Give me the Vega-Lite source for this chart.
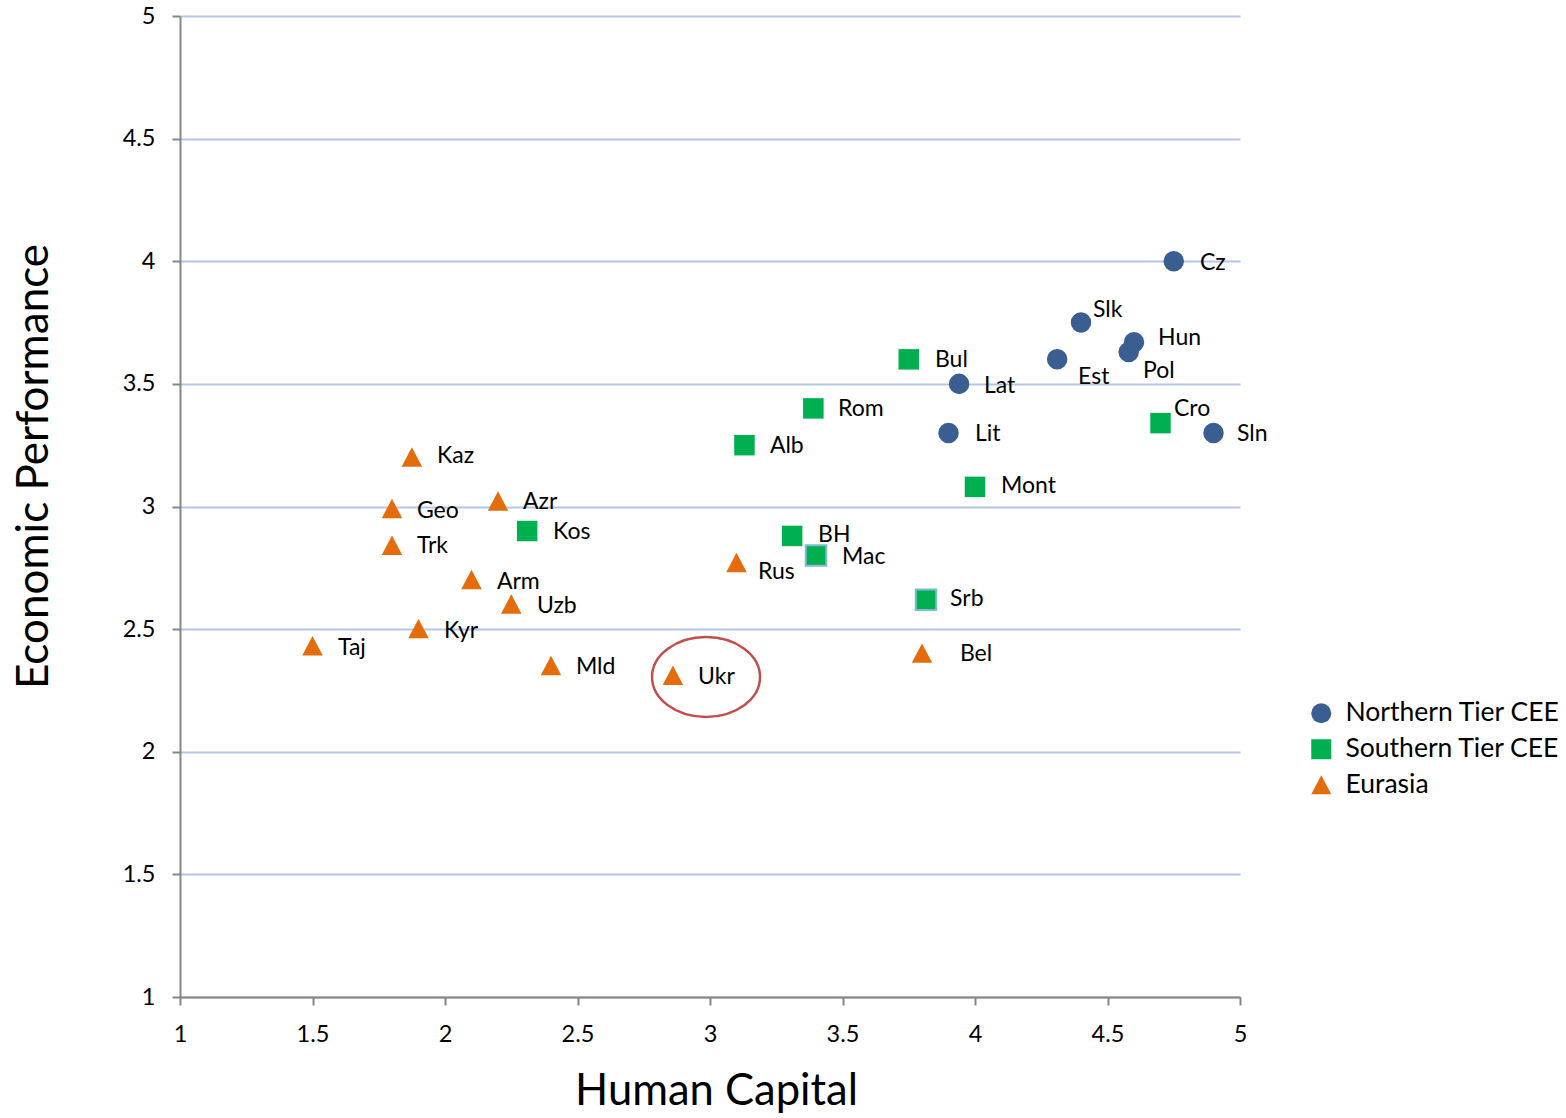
{
  "$schema": "https://vega.github.io/schema/vega-lite/v6.json",
  "width": 1060,
  "height": 981,
  "autosize": {"type": "none"},
  "padding": {"left": 180, "top": 16, "right": 326, "bottom": 121},
  "background": "white",
  "config": {
    "font": "Lato",
    "view": {"stroke": null},
    "axis": {
      "domainColor": "#868686",
      "domainWidth": 2,
      "tickColor": "#868686",
      "tickWidth": 2,
      "tickSize": 8,
      "labelFontSize": 23.5,
      "labelColor": "#000000",
      "labelFont": "Lato",
      "titleFont": "Lato",
      "titleFontWeight": "normal",
      "titleColor": "#000000"
    },
    "legend": {
      "labelFont": "Lato",
      "labelFontSize": 26.5,
      "labelColor": "#000000",
      "labelLimit": 0
    }
  },
  "datasets": {
    "points": [
      {"country": "Cz", "group": "Northern Tier CEE", "hc": 4.75, "ep": 4.0, "lx": 4.849, "ly": 3.993},
      {"country": "Slk", "group": "Northern Tier CEE", "hc": 4.4, "ep": 3.75, "lx": 4.445, "ly": 3.801},
      {"country": "Hun", "group": "Northern Tier CEE", "hc": 4.6, "ep": 3.67, "lx": 4.691, "ly": 3.687},
      {"country": "Pol", "group": "Northern Tier CEE", "hc": 4.58, "ep": 3.63, "lx": 4.634, "ly": 3.553},
      {"country": "Est", "group": "Northern Tier CEE", "hc": 4.31, "ep": 3.6, "lx": 4.389, "ly": 3.528},
      {"country": "Lat", "group": "Northern Tier CEE", "hc": 3.94, "ep": 3.5, "lx": 4.034, "ly": 3.491},
      {"country": "Lit", "group": "Northern Tier CEE", "hc": 3.9, "ep": 3.3, "lx": 4.0, "ly": 3.296},
      {"country": "Sln", "group": "Northern Tier CEE", "hc": 4.9, "ep": 3.3, "lx": 4.989, "ly": 3.296},
      {"country": "Bul", "group": "Southern Tier CEE", "hc": 3.75, "ep": 3.6, "lx": 3.849, "ly": 3.597},
      {"country": "Rom", "group": "Southern Tier CEE", "hc": 3.39, "ep": 3.4, "lx": 3.483, "ly": 3.398},
      {"country": "Alb", "group": "Southern Tier CEE", "hc": 3.13, "ep": 3.25, "lx": 3.226, "ly": 3.247},
      {"country": "Cro", "group": "Southern Tier CEE", "hc": 4.7, "ep": 3.34, "lx": 4.751, "ly": 3.398},
      {"country": "Mont", "group": "Southern Tier CEE", "hc": 4.0, "ep": 3.08, "lx": 4.098, "ly": 3.084},
      {"country": "Kos", "group": "Southern Tier CEE", "hc": 2.31, "ep": 2.9, "lx": 2.408, "ly": 2.896},
      {"country": "BH", "group": "Southern Tier CEE", "hc": 3.31, "ep": 2.88, "lx": 3.408, "ly": 2.884},
      {"country": "Mac", "group": "Southern Tier CEE", "hc": 3.4, "ep": 2.8, "lx": 3.498, "ly": 2.794},
      {"country": "Srb", "group": "Southern Tier CEE", "hc": 3.815, "ep": 2.62, "lx": 3.906, "ly": 2.623},
      {"country": "Kaz", "group": "Eurasia", "hc": 1.875, "ep": 3.2, "lx": 1.97, "ly": 3.206},
      {"country": "Azr", "group": "Eurasia", "hc": 2.2, "ep": 3.02, "lx": 2.294, "ly": 3.018},
      {"country": "Geo", "group": "Eurasia", "hc": 1.8, "ep": 2.99, "lx": 1.894, "ly": 2.982},
      {"country": "Trk", "group": "Eurasia", "hc": 1.8, "ep": 2.84, "lx": 1.894, "ly": 2.839},
      {"country": "Arm", "group": "Eurasia", "hc": 2.1, "ep": 2.7, "lx": 2.196, "ly": 2.692},
      {"country": "Uzb", "group": "Eurasia", "hc": 2.25, "ep": 2.6, "lx": 2.347, "ly": 2.594},
      {"country": "Kyr", "group": "Eurasia", "hc": 1.9, "ep": 2.5, "lx": 1.996, "ly": 2.492},
      {"country": "Taj", "group": "Eurasia", "hc": 1.5, "ep": 2.43, "lx": 1.596, "ly": 2.423},
      {"country": "Mld", "group": "Eurasia", "hc": 2.4, "ep": 2.35, "lx": 2.494, "ly": 2.346},
      {"country": "Ukr", "group": "Eurasia", "hc": 2.86, "ep": 2.31, "lx": 2.955, "ly": 2.305},
      {"country": "Rus", "group": "Eurasia", "hc": 3.1, "ep": 2.77, "lx": 3.181, "ly": 2.733},
      {"country": "Bel", "group": "Eurasia", "hc": 3.8, "ep": 2.4, "lx": 3.943, "ly": 2.399}
    ],
    "highlight": [
      {"hc": 2.985, "ep": 2.305}
    ]
  },
  "layer": [
    {
      "data": {"name": "points"},
      "mark": {"type": "point", "filled": true, "opacity": 1, "size": 420},
      "encoding": {
        "x": {
          "field": "hc", "type": "quantitative",
          "scale": {"domain": [1, 5], "nice": false, "zero": false},
          "axis": {
            "values": [1, 1.5, 2, 2.5, 3, 3.5, 4, 4.5, 5],
            "format": "~g",
            "grid": false,
            "labelFlush": false,
            "labelPadding": 17,
            "title": "Human Capital",
            "titleFontSize": 43.5,
            "titleX": 536,
            "titleY": 107,
            "titleAlign": "center",
            "titleBaseline": "alphabetic"
          }
        },
        "y": {
          "field": "ep", "type": "quantitative",
          "scale": {"domain": [1, 5], "nice": false, "zero": false},
          "axis": {
            "values": [1, 1.5, 2, 2.5, 3, 3.5, 4, 4.5, 5],
            "format": "~g",
            "grid": true,
            "gridColor": "#B4C6E7",
            "gridWidth": 2,
            "labelFlush": false,
            "labelPadding": 17,
            "title": "Economic Performance",
            "titleFontSize": 44,
            "titleX": -133,
            "titleY": 450,
            "titleAngle": -90,
            "titleAlign": "center",
            "titleBaseline": "alphabetic"
          }
        },
        "color": {
          "field": "group", "type": "nominal",
          "scale": {"domain": ["Northern Tier CEE", "Southern Tier CEE", "Eurasia"], "range": ["#3A5E91", "#00B050", "#E46C0A"]},
          "legend": {
            "title": null,
            "orient": "none",
            "legendX": 1128,
            "legendY": 684,
            "symbolSize": 400,
            "labelOffset": 11,
            "rowPadding": 9,
            "symbolStrokeWidth": 0
          }
        },
        "shape": {
          "field": "group", "type": "nominal",
          "scale": {"domain": ["Northern Tier CEE", "Southern Tier CEE", "Eurasia"], "range": ["circle", "square", "M0,-1L1,0.9L-1,0.9Z"]},
          "legend": null
        },
        "stroke": {
          "condition": {"test": "datum.country === 'Mac' || datum.country === 'Srb'", "value": "#7FBCD2"},
          "value": null
        },
        "strokeWidth": {"value": 2}
      }
    },
    {
      "data": {"name": "points"},
      "mark": {"type": "text", "align": "left", "baseline": "middle", "fontSize": 23, "color": "#000000", "font": "Lato"},
      "encoding": {
        "x": {"field": "lx", "type": "quantitative"},
        "y": {"field": "ly", "type": "quantitative"},
        "text": {"field": "country"}
      }
    },
    {
      "data": {"name": "highlight"},
      "mark": {"type": "point", "filled": false, "shape": "M-1,0A1,0.74,0,1,0,1,0A1,0.74,0,1,0,-1,0Z", "size": 11664, "stroke": "#C0504D", "strokeWidth": 2.5, "opacity": 1},
      "encoding": {
        "x": {"field": "hc", "type": "quantitative"},
        "y": {"field": "ep", "type": "quantitative"}
      }
    }
  ]
}
